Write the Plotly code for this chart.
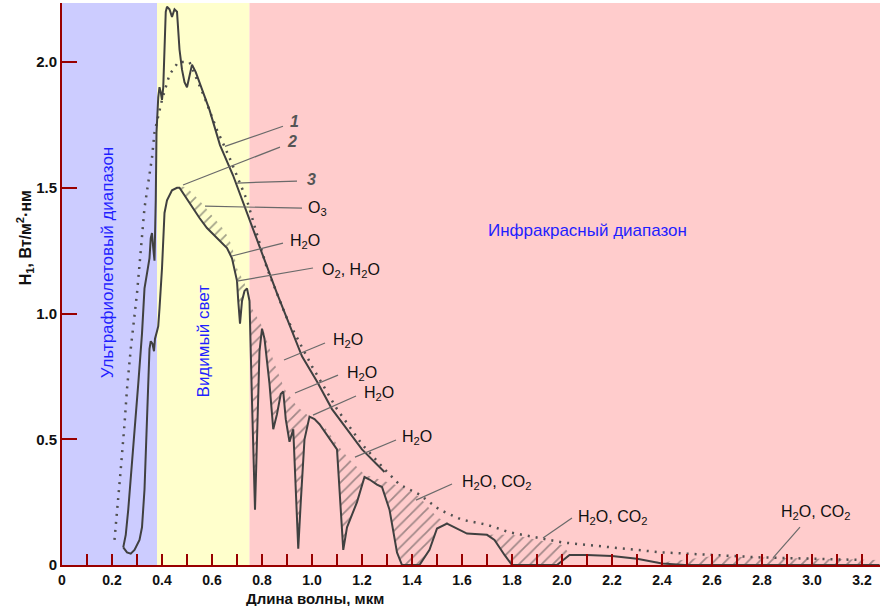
import plotly.graph_objects as go

# ---------------- data ----------------
# curve 1: dotted (black-body like)
c1_x = [0.21, 0.22, 0.235, 0.25, 0.26, 0.275, 0.29, 0.30, 0.33, 0.36, 0.37, 0.40, 0.43, 0.465, 0.51,
        0.57, 0.62, 0.67, 0.74, 0.82, 0.90, 1.0, 1.1, 1.2, 1.3, 1.35, 1.43, 1.51, 1.6, 1.7, 1.79,
        1.9, 2.0, 2.2, 2.4, 2.6, 2.8, 3.0, 3.2]
c1_y = [0.10, 0.20, 0.38, 0.56, 0.70, 0.86, 1.01, 1.08, 1.42, 1.62, 1.72, 1.85, 1.95, 2.00, 2.00,
        1.86, 1.73, 1.62, 1.45, 1.18, 0.98, 0.79, 0.62, 0.48, 0.37, 0.32, 0.28, 0.22, 0.18, 0.16, 0.13,
        0.11, 0.09, 0.07, 0.05, 0.04, 0.03, 0.025, 0.02]

# upper solid curve (outside atmosphere)
c3_x = [0.245, 0.255, 0.265, 0.28, 0.29, 0.305, 0.32, 0.33, 0.34, 0.35, 0.355, 0.36, 0.365, 0.37,
        0.375, 0.378, 0.385, 0.39, 0.395, 0.40, 0.405, 0.41, 0.415, 0.42, 0.43, 0.44, 0.45, 0.46,
        0.47, 0.48, 0.49, 0.50, 0.51, 0.52, 0.535, 0.55, 0.57, 0.59, 0.632, 0.684, 0.74, 0.82,
        0.86, 0.96, 1.02, 1.08, 1.14, 1.20, 1.26, 1.29]
c3_y = [0.07, 0.12, 0.22, 0.40, 0.52, 0.72, 0.92, 1.10, 1.16, 1.22, 1.30, 1.32, 1.26, 1.21,
        1.45, 1.72, 1.86, 1.90, 1.88, 1.85, 1.90, 2.05, 2.20, 2.22, 2.21, 2.18, 2.21, 2.20,
        2.05, 1.97, 1.92, 1.90, 1.95, 1.99, 1.96, 1.92, 1.87, 1.81, 1.67, 1.55, 1.40, 1.19,
        1.08, 0.83, 0.73, 0.62, 0.54, 0.46, 0.40, 0.37]

# lower solid curve (sea level)
c2_x = [0.245, 0.26, 0.275, 0.29, 0.31, 0.32, 0.33, 0.335, 0.34, 0.345, 0.35, 0.355, 0.362, 0.368,
        0.372, 0.38, 0.385, 0.39, 0.40, 0.41, 0.42, 0.44, 0.46, 0.47, 0.49, 0.52, 0.55, 0.58, 0.61,
        0.64, 0.66, 0.68, 0.69, 0.70, 0.705, 0.712, 0.72, 0.73, 0.74, 0.75, 0.76, 0.772, 0.78, 0.79,
        0.80, 0.81, 0.83, 0.845, 0.86, 0.875, 0.885, 0.895, 0.905, 0.91, 0.925, 0.935, 0.945, 0.955,
        0.97, 0.99, 1.01, 1.03, 1.05, 1.07, 1.10, 1.11, 1.125, 1.14, 1.18, 1.21, 1.23, 1.26, 1.28,
        1.31, 1.34, 1.36, 1.43, 1.47, 1.50, 1.54, 1.58, 1.62, 1.70, 1.73, 1.77, 1.80, 1.98, 2.03,
        2.10, 2.20, 2.30, 2.40, 2.49, 2.60, 3.27]
c2_y = [0.07, 0.05, 0.045, 0.06, 0.10, 0.15, 0.30, 0.45, 0.55, 0.72, 0.86, 0.89, 0.88, 0.85,
        0.90, 0.93, 0.95, 1.02, 1.18, 1.40, 1.45, 1.49, 1.50, 1.50, 1.47, 1.42, 1.38, 1.34, 1.31,
        1.28, 1.26, 1.22, 1.18, 1.13, 1.05, 0.96, 1.05, 1.09, 1.10, 1.05, 0.65, 0.22, 0.50, 0.85,
        0.94, 0.90, 0.72, 0.54, 0.60, 0.68, 0.69, 0.58, 0.52, 0.49, 0.54, 0.30, 0.065, 0.25,
        0.50, 0.59, 0.58, 0.56, 0.53, 0.50, 0.46, 0.30, 0.06, 0.15, 0.25, 0.35, 0.34, 0.32, 0.31,
        0.22, 0.05, 0.0, 0.0, 0.06, 0.145, 0.165, 0.145, 0.125, 0.12, 0.10, 0.04, 0.0, 0.0, 0.04,
        0.04, 0.036, 0.025, 0.006, 0.0, 0.0, 0.0]

# top edge of hatched absorption bands
hatch_x = [0.46, 0.50, 0.55, 0.60, 0.65, 0.68, 0.70, 0.73, 0.76, 0.80, 0.85, 0.89, 0.94, 0.99,
           1.05, 1.10, 1.15, 1.21, 1.30, 1.36, 1.43, 1.50, 1.54, 1.58, 1.62, 1.70, 1.73, 1.80,
           1.90, 2.0, 2.03, 2.10, 2.20, 2.30, 2.40, 2.49, 2.6, 2.8, 3.0, 3.2, 3.27]
hatch_y = [1.51, 1.50, 1.45, 1.39, 1.33, 1.27, 1.18, 1.12, 1.02, 0.95, 0.80, 0.70, 0.63, 0.59,
           0.55, 0.48, 0.42, 0.36, 0.33, 0.31, 0.27, 0.19, 0.17, 0.145, 0.125, 0.12, 0.12, 0.12,
           0.10, 0.08, 0.045, 0.04, 0.036, 0.025, 0.01, 0.02, 0.035, 0.03, 0.025, 0.02, 0.02]

# spectral regions
region_start = [0.0, 0.38, 0.75]
region_end = [0.38, 0.75, 3.28]
region_color = ["#CCCCFF", "#FFFFCC", "#FFCCCC"]

# leader labels
lab_text = ["1", "2", "3", "O<sub>3</sub>", "H<sub>2</sub>O", "O<sub>2</sub>, H<sub>2</sub>O",
            "H<sub>2</sub>O", "H<sub>2</sub>O", "H<sub>2</sub>O", "H<sub>2</sub>O",
            "H<sub>2</sub>O, CO<sub>2</sub>", "H<sub>2</sub>O, CO<sub>2</sub>", "H<sub>2</sub>O, CO<sub>2</sub>"]
lab_x = [0.905, 0.89, 0.97, 0.976, 0.904, 1.032, 1.076, 1.132, 1.20, 1.352, 1.592, 2.056, 2.868]
lab_y = [1.765, 1.685, 1.535, 1.416, 1.288, 1.173, 0.891, 0.763, 0.684, 0.509, 0.33, 0.187, 0.207]
tail_x = [0.884, 0.872, 0.94, 0.96, 0.884, 1.004, 1.052, 1.104, 1.176, 1.336, 1.56, 2.04, 2.952]
tail_y = [1.745, 1.662, 1.527, 1.419, 1.280, 1.181, 0.883, 0.755, 0.672, 0.497, 0.322, 0.187, 0.151]
tip_x = [0.652, 0.484, 0.70, 0.572, 0.68, 0.70, 0.888, 0.932, 1.004, 1.172, 1.416, 1.924, 2.844]
tip_y = [1.665, 1.511, 1.519, 1.427, 1.229, 1.129, 0.815, 0.684, 0.596, 0.429, 0.258, 0.107, 0.028]

x_tickvals = [0, 0.2, 0.4, 0.6, 0.8, 1.0, 1.2, 1.4, 1.6, 1.8, 2.0, 2.2, 2.4, 2.6, 2.8, 3.0, 3.2]
x_ticktext = ["0", "0.2", "0.4", "0.6", "0.8", "1.0", "1.2", "1.4", "1.6", "1.8", "2.0", "2.2",
              "2.4", "2.6", "2.8", "3.0", "3.2"]
y_tickvals = [0, 0.5, 1.0, 1.5, 2.0]
y_ticktext = ["0", "0.5", "1.0", "1.5", "2.0"]

# ---------------- figure ----------------
AX = "#990000"
LINE = "#404040"
FONT = "Liberation Sans, Arial"
fig = go.Figure()

# hatched absorption polygon
low_seg = [(x, y) for x, y in zip(c2_x, c2_y) if x >= hatch_x[0]]
poly_x = hatch_x + [p[0] for p in reversed(low_seg)]
poly_y = hatch_y + [p[1] for p in reversed(low_seg)]
fig.add_trace(go.Scatter(x=poly_x, y=poly_y, mode="lines", fill="toself",
                         line=dict(width=0, color="rgba(0,0,0,0)"),
                         fillcolor="rgba(0,0,0,0)",
                         fillpattern=dict(shape="/", size=8, solidity=0.22,
                                          fgcolor="#444444", bgcolor="rgba(0,0,0,0)"),
                         hoverinfo="skip", showlegend=False))

fig.add_trace(go.Scatter(x=c1_x, y=c1_y, mode="lines",
                         line=dict(color="#505050", width=2.5, dash="2px,6px"),
                         showlegend=False))
fig.add_trace(go.Scatter(x=c3_x, y=c3_y, mode="lines", line=dict(color=LINE, width=2),
                         showlegend=False))
fig.add_trace(go.Scatter(x=c2_x, y=c2_y, mode="lines", line=dict(color=LINE, width=2),
                         showlegend=False))

shapes = []
for s, e, c in zip(region_start, region_end, region_color):
    shapes.append(dict(type="rect", xref="x", yref="paper", x0=s, x1=e, y0=0, y1=1,
                       fillcolor=c, line=dict(width=0), layer="below"))
for tx, ty, px, py in zip(tail_x, tail_y, tip_x, tip_y):
    shapes.append(dict(type="line", xref="x", yref="y", x0=tx, y0=ty, x1=px, y1=py,
                       line=dict(color="#6a6a6a", width=1.2)))

ann = []
for t, lx, ly in zip(lab_text, lab_x, lab_y):
    numeric = t in ("1", "2", "3")
    ann.append(dict(x=lx, y=ly, xref="x", yref="y", text=("<b><i>%s</i></b>" % t) if numeric else t,
                    showarrow=False, xanchor="left", yanchor="middle",
                    font=dict(family=FONT, size=16, color="#555555" if numeric else "#111111")))

# region names
blue = dict(family=FONT, size=17, color="#1f1fff")
ann.append(dict(x=0.18, y=1.2, xref="x", yref="y", text="Ультрафиолетовый диапазон", textangle=-90,
                showarrow=False, font=blue))
ann.append(dict(x=0.565, y=0.89, xref="x", yref="y", text="Видимый свет", textangle=-90,
                showarrow=False, font=blue))
ann.append(dict(x=2.1, y=1.33, xref="x", yref="y", text="Инфракрасный диапазон",
                showarrow=False, font=blue))

# axis titles
ann.append(dict(x=1.01, y=-0.041, xref="x", yref="paper", text="<b>Длина волны, мкм</b>",
                showarrow=False, yanchor="top",
                font=dict(family="Liberation Sans Narrow, Liberation Sans, Arial", size=15, color="#111")))
ann.append(dict(x=-0.045, y=1.30, xref="paper", yref="y", text="<b>H<sub>1</sub>, Вт/м<sup>2</sup>·нм</b>",
                textangle=-90, showarrow=False, xanchor="center",
                font=dict(family="Liberation Sans Narrow, Liberation Sans, Arial", size=16, color="#111")))

tickfont = dict(family="Liberation Sans Narrow, Liberation Sans, Arial", size=14, color="#111")
fig.update_layout(
    width=887, height=606,
    margin=dict(l=62, r=7, t=3, b=41),
    paper_bgcolor="white", plot_bgcolor="white",
    shapes=shapes, annotations=ann, showlegend=False,
    xaxis=dict(range=[0, 3.272], showgrid=False, zeroline=False, showline=True, linecolor=AX,
               linewidth=2, ticks="inside", ticklen=11, tickcolor=AX, tickwidth=1.5,
               tickvals=x_tickvals, ticktext=["<b>%s</b>" % t for t in x_ticktext], tickfont=tickfont,
               minor=dict(dtick=0.1, tick0=0, ticks="inside", ticklen=11, tickcolor=AX, tickwidth=1.5),
               ticklabelstandoff=1),
    yaxis=dict(range=[0, 2.235], showgrid=False, zeroline=False, showline=True, linecolor=AX,
               linewidth=2, ticks="inside", ticklen=15, tickcolor=AX, tickwidth=1.5,
               tickvals=y_tickvals, ticktext=["<b>%s</b>" % t for t in y_ticktext],
               tickfont=dict(family="Liberation Sans Narrow, Liberation Sans, Arial", size=15, color="#111")),
)

fig.write_html("out.html", config={"displayModeBar": False},
               post_script="document.body.style.margin='0px';")
